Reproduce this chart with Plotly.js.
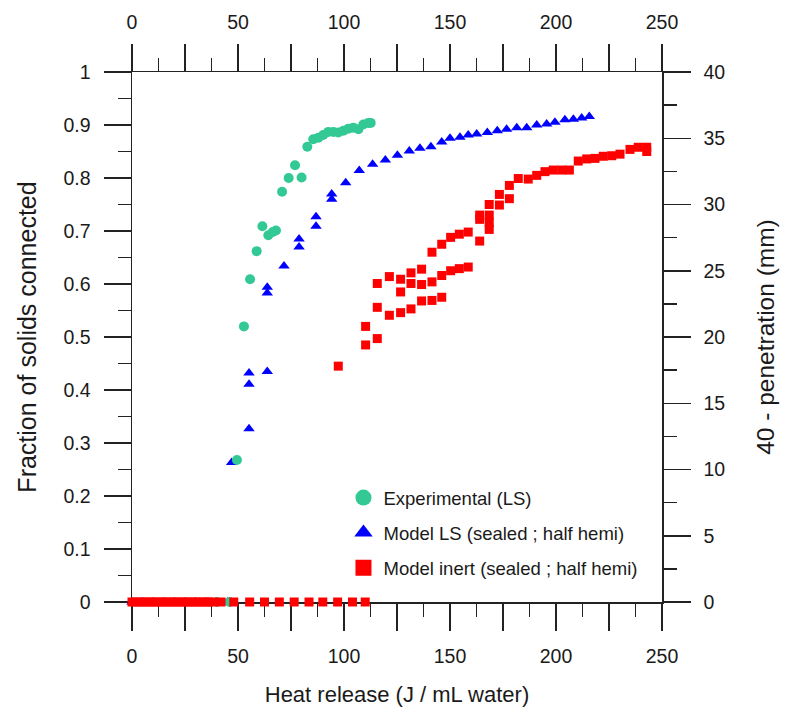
<!DOCTYPE html>
<html>
<head>
<meta charset="utf-8">
<script src="https://cdn.plot.ly/plotly-3.0.1.min.js"></script>
<style>html,body{margin:0;padding:0;background:#fff;}#chart{width:785px;height:719px;}</style>
</head>
<body>
<div id="chart"></div>
<script>
// Experimental (LS)
var expX = [40, 46, 49.5, 52.8, 55.7, 58.8, 61.5, 64.3, 66.4, 67.9, 70.8, 73.9, 76.9, 80.0, 82.7, 85.5, 87.9, 90.2, 92.6, 95.0, 97.3, 99.7, 102.0, 104.4, 106.8, 109.1, 111.5, 112.6];
var expY = [0, 0, 0.268, 0.52, 0.609, 0.662, 0.709, 0.692, 0.698, 0.701, 0.774, 0.800, 0.824, 0.801, 0.859, 0.873, 0.876, 0.881, 0.887, 0.887, 0.886, 0.889, 0.893, 0.895, 0.892, 0.901, 0.904, 0.904];

// Model LS (sealed ; half hemi)
var lsX = [0, 5, 10, 15, 20, 25, 30, 35, 40, 45,
  47.0, 55.2, 55.2, 55.2, 63.8, 63.8, 63.8, 71.7, 78.8, 78.8, 86.8, 86.8, 94.2, 94.2, 100.8, 107.2, 113.5, 119.5, 125.2, 130.8,
  135.8, 141.0, 146.1, 150.0, 154.7, 158.6, 162.6, 167.6, 172.3, 176.7, 181.5, 186.2, 190.9, 195.6, 199.5, 204.2, 208.2, 212.1, 215.7];
var lsY = [0, 0, 0, 0, 0, 0, 0, 0, 0, 0,
  0.263, 0.327, 0.411, 0.432, 0.435, 0.583, 0.594, 0.634, 0.670, 0.685, 0.709, 0.727, 0.760, 0.770, 0.791, 0.814, 0.826, 0.834, 0.843, 0.851,
  0.856, 0.859, 0.868, 0.875, 0.877, 0.881, 0.883, 0.886, 0.889, 0.892, 0.895, 0.895, 0.900, 0.902, 0.905, 0.910, 0.911, 0.913, 0.916];

// Model inert (sealed ; half hemi)
var inertX = [0, 2, 4, 6, 8, 10, 12, 14, 16, 18, 20, 22, 24, 26, 28, 30, 32, 34, 36, 38,
  42, 48, 55.5, 62.5, 69.5, 76.5, 83.5, 90, 97, 104, 110,
  97.3, 110.2, 110.2, 115.7, 115.7, 115.7, 121.4, 121.4, 126.7, 126.7, 126.7,
  131.6, 131.6, 131.6, 136.6, 136.6, 136.6, 141.5, 141.5, 141.5, 146.1, 146.1, 146.1,
  150.3, 150.3, 154.4, 154.4, 158.6, 158.6, 164.0, 164.0, 164.0, 168.5, 168.5, 168.5, 168.5,
  173.3, 173.3, 178.0, 178.0, 182.2, 186.9, 190.9, 194.8, 198.7, 202.7, 206.3, 210.5, 214.5,
  218.4, 222.3, 226.3, 230.2, 234.9, 238.8, 242.8, 242.8];
var inertY = [0, 0, 0, 0, 0, 0, 0, 0, 0, 0, 0, 0, 0, 0, 0, 0, 0, 0, 0, 0,
  0, 0, 0, 0, 0, 0, 0, 0, 0, 0, 0,
  0.445, 0.520, 0.485, 0.497, 0.556, 0.601, 0.614, 0.541, 0.609, 0.585, 0.546,
  0.621, 0.601, 0.553, 0.628, 0.599, 0.568, 0.660, 0.604, 0.569, 0.675, 0.616, 0.575,
  0.688, 0.625, 0.694, 0.629, 0.698, 0.632, 0.681, 0.722, 0.730, 0.703, 0.716, 0.730, 0.750,
  0.749, 0.769, 0.761, 0.786, 0.799, 0.798, 0.805, 0.812, 0.815, 0.815, 0.815, 0.832, 0.836,
  0.837, 0.841, 0.842, 0.845, 0.854, 0.858, 0.858, 0.850];

var seriesNames = ['Experimental (LS)', 'Model LS (sealed ; half hemi)', 'Model inert (sealed ; half hemi)'];
var xTickVals = [0, 25, 50, 75, 100, 125, 150, 175, 200, 225, 250];
var xTickText = ['0', '', '50', '', '100', '', '150', '', '200', '', '250'];

var FONT = 'Liberation Sans, Arial, sans-serif';
var TXT = '#1a1a1a';
var GREEN = '#33c995', BLUE = '#0000ff', RED = '#ff0000';

var traces = [
  {x: lsX, y: lsY, type: 'scatter', mode: 'markers', name: seriesNames[1], showlegend: false, cliponaxis: false,
   marker: {symbol: 'triangle-up', size: 10, color: BLUE}},
  {x: expX, y: expY, type: 'scatter', mode: 'markers', name: seriesNames[0], showlegend: false, cliponaxis: false,
   marker: {symbol: 'circle', size: 10, color: GREEN}},
  {x: inertX, y: inertY, type: 'scatter', mode: 'markers', name: seriesNames[2], showlegend: false, cliponaxis: false,
   marker: {symbol: 'square', size: 9, color: RED}},
  // legend entries (larger symbols, as in the original key)
  {x: [null], y: [null], type: 'scatter', mode: 'markers', name: seriesNames[0], legendgroup: 'a', legendrank: 1,
   marker: {symbol: 'circle', size: 16, color: GREEN}},
  {x: [null], y: [null], type: 'scatter', mode: 'markers', name: seriesNames[1], legendgroup: 'b', legendrank: 2,
   marker: {symbol: 'triangle-up', size: 16, color: BLUE}},
  {x: [null], y: [null], type: 'scatter', mode: 'markers', name: seriesNames[2], legendgroup: 'c', legendrank: 3,
   marker: {symbol: 'square', size: 16, color: RED}},
  {x: [], y: [], xaxis: 'x2', yaxis: 'y2', showlegend: false, hoverinfo: 'skip', type: 'scatter'}
];

var axCommon = {
  showgrid: false, zeroline: false, showline: true, linecolor: '#222', linewidth: 1.5, layer: 'below traces',
  ticks: 'outside', ticklen: 27, tickwidth: 1.5, tickcolor: '#222', ticklabelstandoff: 9,
  tickfont: {family: FONT, size: 19.5, color: TXT}
};
var minorX = {dtick: 12.5, tick0: 0, ticks: 'outside', ticklen: 13, tickwidth: 1.5, tickcolor: '#222', showgrid: false};

var layout = {
  width: 785, height: 719,
  margin: {l: 132, r: 123, t: 72, b: 117},
  paper_bgcolor: '#fff', plot_bgcolor: '#fff',
  showlegend: true,
  legend: {x: 0.399, y: 0.232, xanchor: 'left', yanchor: 'top', bgcolor: 'rgba(0,0,0,0)',
           font: {family: FONT, size: 18.5, color: TXT}, traceorder: 'grouped', tracegroupgap: 8, itemsizing: 'trace'},
  xaxis: Object.assign({}, axCommon, {range: [0, 250], tickmode: 'array', tickvals: xTickVals, ticktext: xTickText,
    minor: minorX,
    title: {text: 'Heat release (J / mL water)', font: {family: FONT, size: 22, color: TXT}, standoff: 20}}),
  xaxis2: Object.assign({}, axCommon, {range: [0, 250], overlaying: 'x', side: 'top', anchor: 'y', tickmode: 'array', tickvals: xTickVals, ticktext: xTickText,
    minor: minorX, ticklabelstandoff: 7}),
  yaxis: Object.assign({}, axCommon, {range: [0, 1], dtick: 0.1, tick0: 0,
    minor: {dtick: 0.05, ticks: 'outside', ticklen: 13, tickwidth: 1.5, tickcolor: '#222', showgrid: false},
    title: {text: 'Fraction of solids connected', font: {family: FONT, size: 25, color: TXT}, standoff: 19}}),
  yaxis2: Object.assign({}, axCommon, {range: [0, 40], dtick: 5, tick0: 0, overlaying: 'y', side: 'right', anchor: 'x',
    minor: {dtick: 2.5, ticks: 'outside', ticklen: 13, tickwidth: 1.5, tickcolor: '#222', showgrid: false},
    title: {text: '40 - penetration (mm)', font: {family: FONT, size: 24.5, color: TXT}, standoff: 32}})
};

Plotly.newPlot('chart', traces, layout, {displayModeBar: false, staticPlot: true});
</script>
</body>
</html>
